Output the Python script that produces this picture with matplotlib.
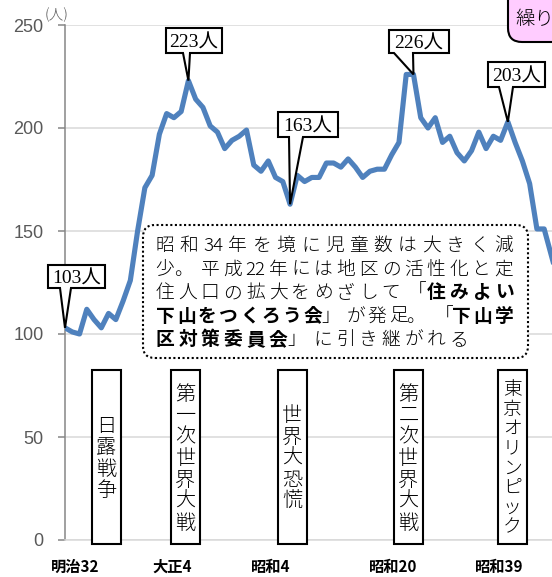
import matplotlib.pyplot as plt
from matplotlib.patches import Polygon, Rectangle, FancyBboxPatch
from matplotlib.transforms import IdentityTransform

W, H = 552, 577
CJK = 'Noto Sans CJK JP'

# 児童数 (人), one point per step from 明治32
children = [103, 101, 100, 112, 107, 103, 110, 107, 116, 126,
            150, 171, 177, 197, 207, 205, 208, 223, 214, 210,
            201, 198, 190, 194, 196, 199, 182, 179, 184, 176,
            174, 163, 177, 174, 176, 176, 183, 183, 181, 185,
            181, 176, 179, 180, 180, 187, 193, 226, 226, 205,
            200, 205, 193, 196, 188, 184, 189, 198, 190, 196,
            194, 203, 193, 184, 173, 151, 151, 138, 125]
x = list(range(len(children)))

callout_idx = [0, 17, 31, 48, 61]

xlabels = ['明治32', '大正4', '昭和4', '昭和20', '昭和39']
xlabel_pos = [1.4, 14.7, 28.4, 45.2, 59.8]

events = ['日露戦争', '第一次世界大戦', '世界大恐慌', '第二次世界大戦', '東京オリンピック']
event_pos = [5.7, 16.6, 31.3, 47.3, 61.6]

note_lines = [
    [('昭和34年を境に児童数は大きく減', False)],
    [('少。平成22年には地区の活性化と定', False)],
    [('住人口の拡大をめざして「', False), ('住みよい', True)],
    [('下山をつくろう会', True), ('」が発足。「', False), ('下山学', True)],
    [('区対策委員会', True), ('」に引き継がれる', False)],
]

ident = IdentityTransform()

fig = plt.figure(figsize=(W / 100, H / 100), dpi=100)
ax = fig.add_axes([65 / W, 1 - 540 / H, (W - 65) / W, 515 / H])
ax.set_xlim(0, (W - 65) / 7.26)
ax.set_ylim(0, 250)

ax.plot(x, children, color='#4f81bd', lw=3.7, solid_joinstyle='round', zorder=3)

# axes styling
for s in ['top', 'right']:
    ax.spines[s].set_visible(False)
ax.spines['left'].set_color('#868686')
ax.spines['left'].set_linewidth(1.1)
ax.spines['bottom'].set_color('#d9d9d9')
ax.spines['bottom'].set_linewidth(1.1)
ax.yaxis.grid(True, color='#d9d9d9', lw=1.1)
ax.set_axisbelow(True)
ax.set_yticks([0, 50, 100, 150, 200, 250])
ax.tick_params(axis='y', length=5, width=1.1, color='#868686', pad=10.5,
               labelsize=13, labelcolor='#595959')
for t in ax.get_yticklabels():
    t.set_family('Liberation Sans')
ax.set_xticks(xlabel_pos, labels=xlabels)
ax.tick_params(axis='x', length=0, pad=13.5)
for t in ax.get_xticklabels():
    t.set_family(CJK)
    t.set_fontweight('bold')
    t.set_fontsize(11)

fig.text(57, H - 15, '(人)', transform=ident, ha='center', va='center',
         fontsize=10.5, color='#595959', family=CJK, fontweight=300)


def put_char(ch, cx, cy, size, weight=300, family=CJK):
    em = size * 100 / 72
    dx = {'。': -0.22, '、': -0.22, '」': -0.2, '「': 0.2}.get(ch, 0) * em
    fig.text(cx + dx, H - cy - 0.38 * em, ch, transform=ident, ha='center',
             va='baseline', fontsize=size, fontweight=weight, family=family,
             zorder=7)


def cells(segments):
    out = []
    for text, bold in segments:
        i = 0
        while i < len(text):
            j = i + 1
            if text[i].isdigit():
                while j < len(text) and text[j].isdigit():
                    j += 1
            out.append((text[i:j], bold))
            i = j
    return out


# callouts with value labels
callout_boxes = [(48, 105, 265, 288, 60, 71),
                 (166, 222, 28, 53, 183, 190),
                 (278, 338, 112, 137, 289, 303),
                 (389, 449, 30, 53, 394, 413),
                 (488, 545, 62, 87, 499, 513)]
for i, (L, R, T, B, b1, b2) in zip(callout_idx, callout_boxes):
    tx, ty = ax.transData.transform((x[i], children[i]))
    pts = [(L, H - T), (R, H - T), (R, H - B), (b2, H - B), (tx, ty),
           (b1, H - B), (L, H - B)]
    ax.add_patch(Polygon(pts, closed=True, fc='white', ec='black', lw=1.5,
                         joinstyle='miter', transform=ident, clip_on=False,
                         zorder=5))
    em = 14 * 100 / 72
    fig.text((L + R) / 2, H - (T + B) / 2 - 0.36 * em, f'{children[i]}人',
             transform=ident, ha='center', va='baseline', fontsize=14,
             family=['Liberation Serif', CJK], zorder=7)

# event boxes with vertical text
for name, pos in zip(events, event_pos):
    cx = ax.transData.transform((pos, 0))[0]
    ax.add_patch(Rectangle((cx - 14.5, H - 544), 29, 174, fc='white',
                           ec='black', lw=1.5, transform=ident,
                           clip_on=False, zorder=4))
    n = len(name)
    pitch = 21.5 if n < 8 else 19.6
    size = 14.5 if n < 8 else 13.5
    for k, ch in enumerate(name):
        put_char(ch, cx, 456.5 + (k - (n - 1) / 2) * pitch, size)

# note box
ax.add_patch(FancyBboxPatch((143, H - 358), 385, 133,
                            boxstyle='round,pad=0,rounding_size=12',
                            fc='white', ec='black', lw=1.5,
                            ls=(0, (1, 1.2)), transform=ident,
                            clip_on=False, zorder=5))
line_y = [244, 267.5, 291, 314.5, 338]
for li, (segs, cy) in enumerate(zip(note_lines, line_y)):
    cs = cells(segs)
    if li < len(note_lines) - 1:
        pitch = (504 - 165) / (len(cs) - 1)
    else:
        pitch = 22.6
    for k, (ch, bold) in enumerate(cs):
        put_char(ch, 165 + k * pitch, cy, 13.5,
                 weight='bold' if bold else 300)

# pink box at top right (cut off)
fig.add_artist(FancyBboxPatch((508, H - 42), 120, 90,
                              boxstyle='round,pad=0,rounding_size=14',
                              fc='#ffccff', ec='black', lw=1.5,
                              transform=ident, clip_on=False, zorder=5))
em = 14 * 100 / 72
fig.text(515, H - 18 - 0.38 * em, '繰り', transform=ident, ha='left',
         va='baseline', fontsize=14, family=CJK, fontweight=300, zorder=7)

fig.savefig('out.png', dpi=100)
